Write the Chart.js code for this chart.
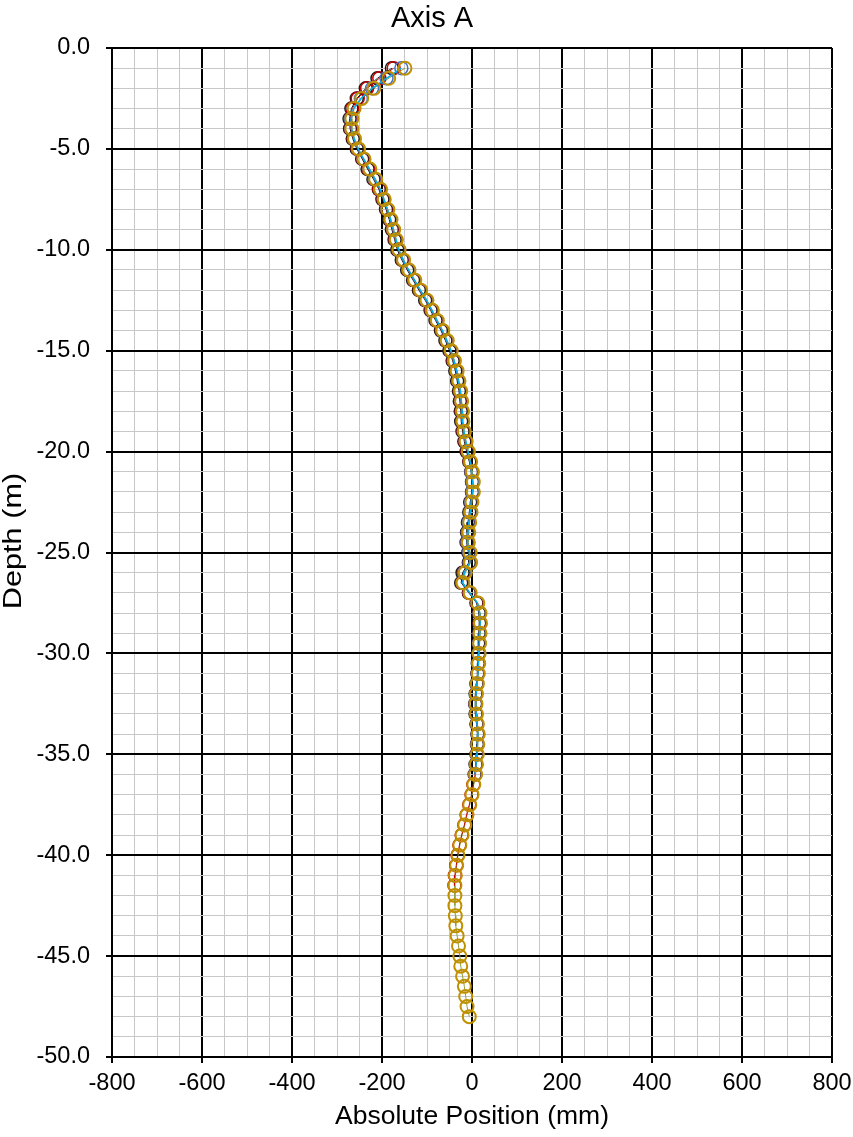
<!DOCTYPE html>
<html>
<head>
<meta charset="utf-8">
<script src="https://cdn.jsdelivr.net/npm/chart.js@4"></script>
<style>
  html, body { margin: 0; padding: 0; background: #fff; }
  #wrap { width: 853px; height: 1137px; }
</style>
</head>
<body>
<div id="wrap"><canvas id="chart-canvas" width="853" height="1137"></canvas></div>
<script>
// depth of each reading (m)
const depths = [
  -1.0, -1.5, -2.0, -2.5, -3.0, -3.5, -4.0, -4.5, -5.0, -5.5,
  -6.0, -6.5, -7.0, -7.5, -8.0, -8.5, -9.0, -9.5, -10.0, -10.5,
  -11.0, -11.5, -12.0, -12.5, -13.0, -13.5, -14.0, -14.5, -15.0, -15.5,
  -16.0, -16.5, -17.0, -17.5, -18.0, -18.5, -19.0, -19.5, -20.0, -20.5,
  -21.0, -21.5, -22.0, -22.5, -23.0, -23.5, -24.0, -24.5, -25.0, -25.5,
  -26.0, -26.5, -27.0, -27.5, -28.0, -28.5, -29.0, -29.5, -30.0, -30.5,
  -31.0, -31.5, -32.0, -32.5, -33.0, -33.5, -34.0, -34.5, -35.0, -35.5,
  -36.0, -36.5, -37.0, -37.5, -38.0, -38.5, -39.0, -39.5, -40.0, -40.5,
  -41.0, -41.5, -42.0, -42.5, -43.0, -43.5, -44.0, -44.5, -45.0, -45.5,
  -46.0, -46.5, -47.0, -47.5, -48.0
];

// absolute position (mm), one list per survey
const surveyBlack = [
  -178, -210, -236, -256, -268, -272, -271, -265, -256, -244,
  -232, -219, -207, -199, -191, -184, -178, -172, -166, -156,
  -144, -131, -118, -104, -92, -81, -69, -59, -50, -43,
  -37, -33, -29, -27, -25, -24, -21, -17, -12, -6,
  -2, 0, 0, -4, -6, -9, -11, -12, -8, -7,
  -21, -24, -7, 10, 15, 16, 15, 14, 14, 13,
  12, 10, 8, 7, 8, 10, 12, 11, 10, 8,
  6
];
const surveyRed = [
  -174, -206, -233, -254, -266, -270, -269, -263, -254, -242,
  -230, -217, -206, -197, -189, -182, -176, -170, -164, -154,
  -142, -129, -116, -102, -90, -79, -67, -57, -48, -41,
  -35, -31, -27, -25, -23, -22, -19, -15, -10, -5,
  -1, 1, 1, -2, -4, -7, -9, -10, -6, -5,
  -18, -22, -6, 11, 17, 17, 17, 16, 15, 14,
  13, 11, 9, 8, 9, 11, 13, 12, 11, 9,
  7, 3, -1, -6, -12, -17, -23, -28, -32, -35,
  -38, -39
];
const surveyBlue = [
  -157, -190, -222, -247, -263, -269, -268, -262, -253, -241,
  -228, -216, -204, -196, -188, -181, -175, -169, -163, -153,
  -141, -128, -115, -101, -89, -78, -66, -56, -47, -40,
  -34, -30, -26, -24, -22, -21, -18, -14, -9, -4,
  -1, 1, 1, -2, -4, -7, -9, -10, -6, -5,
  -17, -21, -5, 12, 17, 18, 17, 16, 15, 14,
  13, 11, 9, 8, 9, 11, 13, 12, 11, 9,
  7
];
const surveyOlive = [
  -149, -185, -218, -245, -262, -267, -267, -261, -252, -240,
  -227, -214, -203, -195, -187, -180, -174, -168, -162, -152,
  -140, -127, -114, -100, -88, -77, -65, -55, -46, -39,
  -33, -29, -25, -23, -21, -20, -17, -13, -8, -3,
  1, 3, 3, 0, -2, -5, -7, -8, -4, -3,
  -15, -20, -4, 13, 18, 19, 18, 17, 16, 15,
  14, 12, 10, 9, 10, 12, 14, 13, 12, 10,
  8, 4, 0, -5, -11, -16, -22, -27, -31, -34,
  -37, -38, -38, -38, -37, -36, -33, -30, -27, -25,
  -21, -17, -14, -11, -6
];

const xTicks = [-800, -600, -400, -200, 0, 200, 400, 600, 800];
const yTicks = [0, -5, -10, -15, -20, -25, -30, -35, -40, -45, -50];

const FONT = '"Liberation Sans", Arial, sans-serif';

function toPoints(xs) {
  return xs.map((x, i) => ({ x: x, y: depths[i] }));
}

// markers of one survey (hollow circles), optionally with its joining line
function survey(values, marker, line, stroke) {
  return {
    data: toPoints(values),
    showLine: !!line,
    borderColor: line || marker,
    borderWidth: 1,
    pointRadius: 6.5,
    pointBorderWidth: stroke,
    pointBorderColor: marker,
    pointBackgroundColor: 'rgba(0,0,0,0)',
    pointHoverRadius: 6.5
  };
}

// joining line only, no markers
function trace(values, color, width) {
  return {
    data: toPoints(values),
    showLine: true,
    borderColor: color,
    borderWidth: width,
    pointRadius: 0,
    pointHoverRadius: 0
  };
}

const isMajorX = v => xTicks.includes(v);
const isMajorY = v => yTicks.includes(v);

// chart title and the (slightly stretched) depth title, drawn by hand
const titles = {
  id: 'titles',
  afterDraw(chart) {
    const c = chart.ctx;
    c.save();
    c.fillStyle = '#000';
    c.textAlign = 'center';
    c.textBaseline = 'middle';
    c.font = '29px ' + FONT;
    c.fillText('Axis A', 432, 19);
    c.translate(14, 541);
    c.rotate(-Math.PI / 2);
    c.scale(1.18, 1);
    c.font = '26px ' + FONT;
    c.fillText('Depth (m)', 0, 0);
    c.restore();
  }
};

const ctx = document.getElementById('chart-canvas').getContext('2d');
new Chart(ctx, {
  type: 'scatter',
  data: {
    // first dataset is painted on top
    datasets: [
      survey(surveyOlive, '#BF9000', null, 2),
      trace(surveyBlue, '#00B0F0', 1.5),
      survey(surveyBlue, '#4472C4', null, 1.5),
      survey(surveyRed, '#C00000', '#C00000', 1.5),
      survey(surveyBlack, '#1A1A1A', '#1A1A1A', 1.5),
      trace(surveyOlive, '#8C9E3A', 1)
    ]
  },
  plugins: [titles],
  options: {
    responsive: false,
    animation: false,
    layout: { padding: { left: 0, right: 21, top: 48, bottom: 0 } },
    plugins: {
      legend: { display: false },
      tooltip: { enabled: false },
      title: { display: false }
    },
    scales: {
      x: {
        type: 'linear',
        min: -800,
        max: 800,
        afterFit: scale => {
          scale.height = 80;
          scale.paddingLeft = 0;
          scale.paddingRight = 0;
        },
        ticks: {
          stepSize: 50,
          maxTicksLimit: 100,
          autoSkip: false,
          maxRotation: 0,
          padding: 6,
          color: '#000',
          font: { family: FONT, size: 23.5 },
          callback: v => isMajorX(v) ? String(v) : ''
        },
        grid: {
          color: c => isMajorX(c.tick.value) ? '#000' : '#C8C8C8',
          lineWidth: c => isMajorX(c.tick.value) ? 2 : 1,
          tickColor: c => isMajorX(c.tick.value) ? '#000' : 'rgba(0,0,0,0)',
          tickLength: 6
        },
        border: { color: '#000', width: 2 },
        title: {
          display: true,
          text: 'Absolute Position (mm)',
          color: '#000',
          font: { family: FONT, size: 26.5, lineHeight: 1.2 },
          padding: { top: 0, bottom: 4 }
        }
      },
      y: {
        type: 'linear',
        min: -50,
        max: 0,
        afterFit: scale => {
          scale.width = 112;
          scale.paddingTop = 0;
          scale.paddingBottom = 0;
        },
        ticks: {
          stepSize: 1,
          maxTicksLimit: 100,
          autoSkip: false,
          padding: 16,
          color: '#000',
          font: { family: FONT, size: 23.5 },
          callback: v => isMajorY(v) ? v.toFixed(1) : ''
        },
        grid: {
          color: c => isMajorY(c.tick.value) ? '#000' : '#C8C8C8',
          lineWidth: c => isMajorY(c.tick.value) ? 2 : 1,
          tickColor: c => isMajorY(c.tick.value) ? '#000' : 'rgba(0,0,0,0)',
          tickLength: 6
        },
        border: { color: '#000', width: 2 }
      }
    }
  }
});
</script>
</body>
</html>
